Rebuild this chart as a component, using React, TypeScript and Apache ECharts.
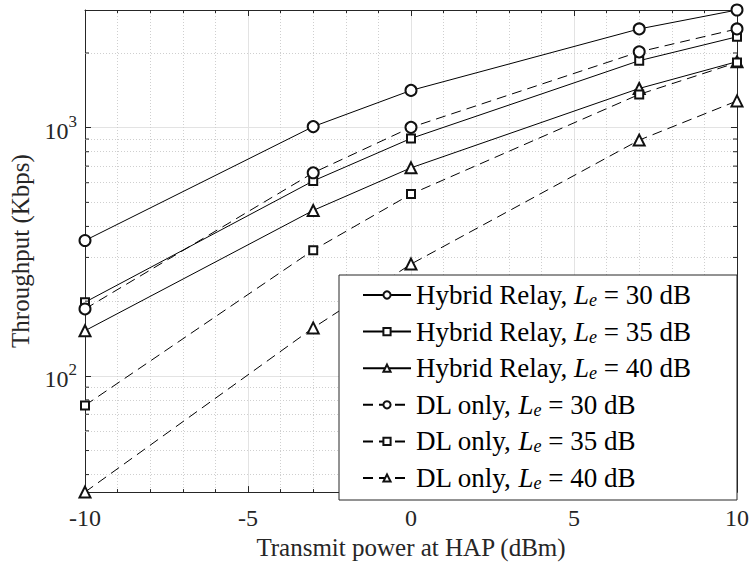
import React, { useEffect, useRef } from "react";
import * as echarts from "echarts";

const xValues = [-10, -3, 0, 7, 10];
const hybrid30 = [351, 1010, 1413, 2500, 2980];
const hybrid35 = [198, 610, 905, 1862, 2324];
const hybrid40 = [152, 464, 689, 1439, 1845];
const dl30 = [186, 658, 1003, 2021, 2500];
const dl35 = [76, 321, 540, 1362, 1830];
const dl40 = [34, 156, 282, 891, 1282];

const seriesNames = [
  "Hybrid Relay, L_e = 30 dB",
  "Hybrid Relay, L_e = 35 dB",
  "Hybrid Relay, L_e = 40 dB",
  "DL only, L_e = 30 dB",
  "DL only, L_e = 35 dB",
  "DL only, L_e = 40 dB",
];
const seriesValues = [hybrid30, hybrid35, hybrid40, dl30, dl35, dl40];
const seriesSymbols = ["emptyCircle", "emptyRect", "emptyTriangle", "emptyCircle", "emptyRect", "emptyTriangle"];
const seriesDashed = [false, false, false, true, true, true];

const xMin = -10;
const xMax = 10;
const yMin = 34;
const yMax = 2980;
const minorYGrid = [40, 50, 60, 70, 80, 90, 200, 300, 400, 500, 600, 700, 800, 900, 2000];

const FONT = '"Liberation Serif", "Times New Roman", serif';
const AX = "#262626";

export default function App() {
  const ref = useRef<HTMLDivElement>(null);
  useEffect(() => {
    if (!ref.current) return;
    const chart = echarts.init(ref.current, null, { renderer: "svg" });
    const symbolSizes: Record<string, number> = { emptyCircle: 11, emptyRect: 8, emptyTriangle: 11 };

    const lineSeries = seriesNames.map((name, i) => ({
      name,
      type: "line",
      data: xValues.map((x, j) => [x, seriesValues[i][j]]),
      symbol: seriesSymbols[i],
      symbolSize: symbolSizes[seriesSymbols[i]],
      showAllSymbol: true,
      lineStyle: { color: "#000", width: 1, type: seriesDashed[i] ? [10, 6] : "solid" },
      itemStyle: { color: "#111", borderWidth: 0.8 },
      z: 3,
      ...(i === 0
        ? {
            markLine: {
              silent: true,
              symbol: "none",
              label: { show: false },
              animation: false,
              z: 1,
              lineStyle: { color: "#cfcfcf", width: 1, type: [1, 2] },
              data: minorYGrid.map((v) => ({ yAxis: v })),
            },
          }
        : {}),
    }));

    const tickSeries = {
      type: "custom",
      silent: true,
      z: 4,
      data: minorYGrid.map((v) => [xMin, v]),
      renderItem: (_params: any, api: any) => {
        const v = api.value(1);
        const l = api.coord([xMin, v]);
        const r = api.coord([xMax, v]);
        return {
          type: "group",
          children: [
            { type: "line", shape: { x1: l[0], y1: l[1], x2: l[0] + 4, y2: l[1] }, style: { stroke: AX, lineWidth: 1 } },
            { type: "line", shape: { x1: r[0] - 4, y1: r[1], x2: r[0], y2: r[1] }, style: { stroke: AX, lineWidth: 1 } },
          ],
        };
      },
    };

    const xAxisBase = {
      type: "value",
      min: xMin,
      max: xMax,
      interval: 5,
      axisLine: { show: true, onZero: false, lineStyle: { color: AX, width: 1 } },
      axisTick: { show: true, inside: true, length: 6, lineStyle: { color: AX } },
      minorTick: { show: true, splitNumber: 5, length: 3, lineStyle: { color: AX } },
    };

    const yAxisBase = {
      type: "log",
      logBase: 10,
      min: yMin,
      max: yMax,
      axisLine: { show: true, onZero: false, lineStyle: { color: AX, width: 1 } },
      axisTick: { show: true, inside: true, length: 6, lineStyle: { color: AX } },
    };

    const isPow10 = (v: number) => Math.abs(Math.log10(v) - Math.round(Math.log10(v))) < 1e-6;

    const option = {
      animation: false,
      backgroundColor: "#fff",
      grid: { left: 82, right: 10, top: 10, bottom: 63, containLabel: false },
      xAxis: [
        {
          ...xAxisBase,
          position: "bottom",
          name: "Transmit power at HAP (dBm)",
          nameLocation: "middle",
          nameGap: 39,
          nameTextStyle: { fontFamily: FONT, fontSize: 25, color: AX },
          axisLabel: { margin: 14, fontFamily: FONT, fontSize: 24, color: AX },
          splitLine: { show: true, lineStyle: { color: "#e3e3e3", width: 1 } },
          minorSplitLine: { show: true, lineStyle: { color: "#cfcfcf", width: 1, type: [1, 2] } },
        },
        {
          ...xAxisBase,
          position: "top",
          axisLabel: { show: false },
          splitLine: { show: false },
          minorSplitLine: { show: false },
        },
      ],
      yAxis: [
        {
          ...yAxisBase,
          position: "left",
          name: "Throughput (Kbps)",
          nameLocation: "middle",
          nameGap: 52,
          nameTextStyle: { fontFamily: FONT, fontSize: 25, color: AX },
          splitLine: { show: true, lineStyle: { color: "#e3e3e3", width: 1 } },
          axisLabel: {
            margin: 8,
            showMinLabel: false,
            showMaxLabel: false,
            formatter: (v: number) => (isPow10(v) ? `{b|10}{s|${Math.round(Math.log10(v))}}` : ""),
            rich: {
              b: { fontFamily: FONT, fontSize: 24, color: AX, verticalAlign: "bottom", lineHeight: 30 },
              s: { fontFamily: FONT, fontSize: 17, color: AX, verticalAlign: "top", lineHeight: 30 },
            },
          },
        },
        {
          ...yAxisBase,
          position: "right",
          axisLabel: { show: false },
          splitLine: { show: false },
        },
      ],
      legend: {
        orient: "vertical",
        left: 362,
        top: 281,
        padding: 0,
        itemWidth: 48,
        itemHeight: 9,
        itemGap: 8.6,
        z: 20,
        data: seriesNames,
        formatter: (name: string) => name.replace("L_e", "{i|L}{sub|e}"),
        textStyle: {
          fontFamily: FONT,
          fontSize: 27,
          color: "#000",
          lineHeight: 28,
          rich: {
            i: { fontFamily: FONT, fontSize: 27, fontStyle: "italic", color: "#000", lineHeight: 28 },
            sub: { fontFamily: FONT, fontSize: 18, fontStyle: "italic", color: "#000", verticalAlign: "bottom", lineHeight: 22 },
          },
        },
      },
      graphic: [
        {
          type: "rect",
          z: 10,
          shape: { x: 339, y: 275, width: 398, height: 225 },
          style: { fill: "#fff", stroke: AX, lineWidth: 1 },
        },
      ],
      series: [...lineSeries, tickSeries],
    };

    chart.setOption(option as any);
    return () => chart.dispose();
  }, []);

  return <div ref={ref} style={{ position: "fixed", left: 0, top: 0, width: 752, height: 565 }} />;
}
